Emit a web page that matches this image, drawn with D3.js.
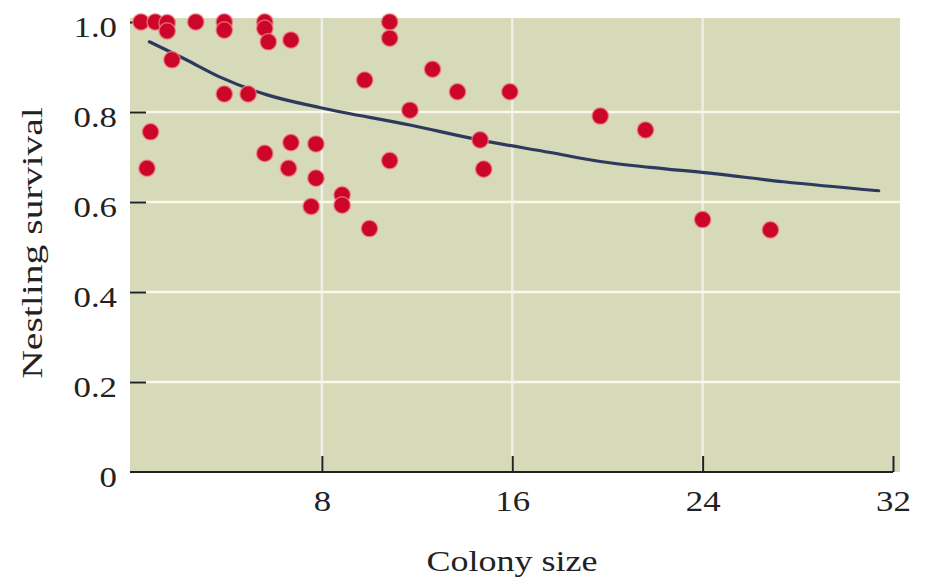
<!DOCTYPE html>
<html>
<head>
<meta charset="utf-8">
<script src="https://cdn.jsdelivr.net/npm/d3@7"></script>
<style>
  html, body { margin: 0; padding: 0; background: #fff; }
  svg { display: block; }
</style>
</head>
<body>
<svg id="chart" width="932" height="581"></svg>
<script>
// colony size vs nestling survival
const colonySize = [0.4, 1.0, 1.5, 1.5, 2.7, 3.9, 3.9, 5.6, 5.6, 5.75, 6.7, 1.7, 3.9, 4.9,
  0.8, 0.65, 5.6, 6.7, 7.75, 6.6, 7.75, 7.55, 8.85, 8.85, 10.0, 10.85, 10.85, 9.8, 12.65,
  13.7, 15.9, 11.7, 14.65, 10.85, 14.8, 19.7, 21.6, 24.0, 26.85];
const survival = [1.0, 1.0, 0.998, 0.98, 1.0, 1.0, 0.982, 1.0, 0.986, 0.956, 0.96, 0.916, 0.84, 0.84,
  0.756, 0.675, 0.708, 0.732, 0.729, 0.675, 0.653, 0.59, 0.616, 0.593, 0.541, 1.0, 0.964, 0.871, 0.895,
  0.845, 0.845, 0.804, 0.738, 0.692, 0.673, 0.791, 0.76, 0.561, 0.538];

// fitted curve
const fitX = [0.75, 2.3, 3.7, 5.7, 7.9, 11.7, 14.6, 17.6, 19.7, 21.8, 24.3, 27.4, 31.4];
const fitY = [0.956, 0.916, 0.878, 0.838, 0.81, 0.771, 0.738, 0.71, 0.69, 0.677, 0.664, 0.645, 0.625];

const xTicks = [8, 16, 24, 32];
const yTicks = [0, 0.2, 0.4, 0.6, 0.8, 1.0];
const yTickLabels = ["0", "0.2", "0.4", "0.6", "0.8", "1.0"];

const svg = d3.select("#chart");
const x = d3.scaleLinear().domain([0, 32]).range([131.5, 893]);
const y = d3.scaleLinear().domain([0, 1]).range([472, 22]);

const font = "'Liberation Serif', 'Times New Roman', serif";
const stretch = 1.2;

// plot background
svg.append("rect")
    .attr("x", 130).attr("y", 18)
    .attr("width", 900 - 130).attr("height", 472 - 18)
    .attr("fill", "#d6dab8");

// grid
svg.append("g").selectAll("line")
  .data(xTicks.filter(d => d < 32))
  .join("line")
    .attr("x1", d => x(d)).attr("x2", d => x(d))
    .attr("y1", 18).attr("y2", 472)
    .attr("stroke", "#eeeee6").attr("stroke-width", 2.5);

svg.append("g").selectAll("line")
  .data(yTicks.filter(d => d > 0 && d < 1))
  .join("line")
    .attr("x1", 130).attr("x2", 900)
    .attr("y1", d => y(d)).attr("y2", d => y(d))
    .attr("stroke", "#fbf8ea").attr("stroke-width", 2.5);

// axes
const xAxis = svg.append("g")
    .attr("transform", `translate(0,${y(0)})`)
    .call(d3.axisBottom(x).tickValues(xTicks).tickSizeInner(-16).tickSizeOuter(0).tickPadding(18));
xAxis.select(".domain").attr("d", `M130,0H${x(32)}`).attr("stroke", "#222").attr("stroke-width", 2.2);
xAxis.selectAll(".tick line").attr("stroke", "#222").attr("stroke-width", 2);
xAxis.selectAll(".tick text")
    .attr("y", null).attr("dy", null)
    .attr("transform", `translate(0,39) scale(${stretch},1)`)
    .attr("fill", "#222")
    .style("font", `29px ${font}`);

const yAxis = svg.append("g")
    .attr("transform", "translate(130,0)")
    .call(d3.axisLeft(y).tickValues(yTicks).tickFormat((d, i) => yTickLabels[i])
      .tickSizeInner(-16).tickSizeOuter(0).tickPadding(13));
yAxis.select(".domain").remove();
yAxis.selectAll(".tick line")
    .attr("stroke", d => d === 0 ? "none" : "#222").attr("stroke-width", 2);
yAxis.selectAll(".tick text")
    .attr("x", null).attr("dy", null)
    .attr("transform", `translate(-13,14) scale(${stretch},1)`)
    .attr("fill", "#222")
    .style("font", `29px ${font}`);

// fitted curve
svg.append("path")
    .datum(fitX.map((v, i) => [v, fitY[i]]))
    .attr("fill", "none")
    .attr("stroke", "#2d3a5e")
    .attr("stroke-width", 3.2)
    .attr("stroke-linecap", "round")
    .attr("d", d3.line().x(d => x(d[0])).y(d => y(d[1])).curve(d3.curveMonotoneX));

// points
svg.append("g").selectAll("circle")
  .data(colonySize.map((v, i) => [v, survival[i]]))
  .join("circle")
    .attr("cx", d => x(d[0]))
    .attr("cy", d => y(d[1]))
    .attr("r", 8.3)
    .attr("fill", "#cc0628")
    .attr("stroke", "#ec8a90")
    .attr("stroke-opacity", 0.7)
    .attr("stroke-width", 1.5);

// titles
svg.append("text")
    .attr("transform", `translate(512,571) scale(${stretch},1)`)
    .attr("text-anchor", "middle")
    .attr("fill", "#222")
    .style("font", `30px ${font}`)
    .text("Colony size");

svg.append("text")
    .attr("transform", `translate(42,243) rotate(-90) scale(1.32,1)`)
    .attr("text-anchor", "middle")
    .attr("fill", "#222")
    .style("font", `30px ${font}`)
    .text("Nestling survival");
</script>
</body>
</html>
